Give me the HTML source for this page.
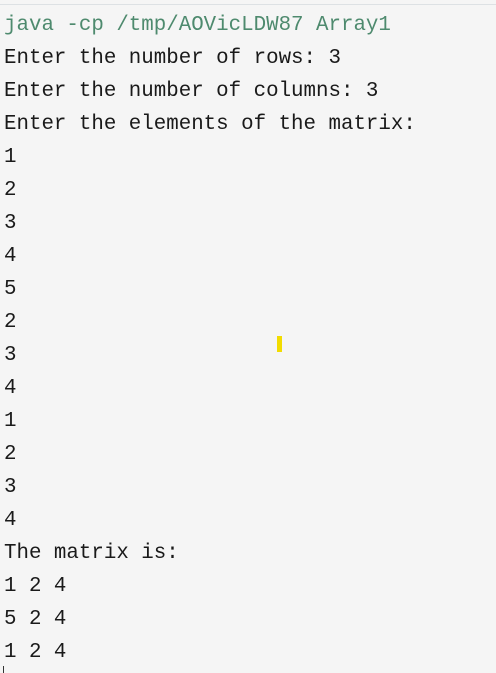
<!DOCTYPE html>
<html><head><style>
html,body{margin:0;padding:0;width:496px;height:673px;overflow:hidden;background:#f5f5f5;}
.top{position:absolute;left:0;top:4px;width:496px;height:1px;background:#dde1e4;}
pre{position:absolute;left:4px;top:9px;margin:0;font-family:"Liberation Mono",monospace;font-size:20.8px;line-height:33px;color:#1a1a1a;}
.g{color:#4e8a6e;}
.cur{position:absolute;left:277px;top:336px;width:5px;height:16px;background:#f2dc00;}
.c2{position:absolute;left:3px;top:666px;width:1px;height:7px;background:#333;}
</style></head><body>
<div class="top"></div>
<pre><span class="g">java -cp /tmp/AOVicLDW87 Array1</span>
Enter the number of rows: 3
Enter the number of columns: 3
Enter the elements of the matrix:
1
2
3
4
5
2
3
4
1
2
3
4
The matrix is:
1 2 4
5 2 4
1 2 4</pre>
<div class="cur"></div>
<div class="c2"></div>
</body></html>
